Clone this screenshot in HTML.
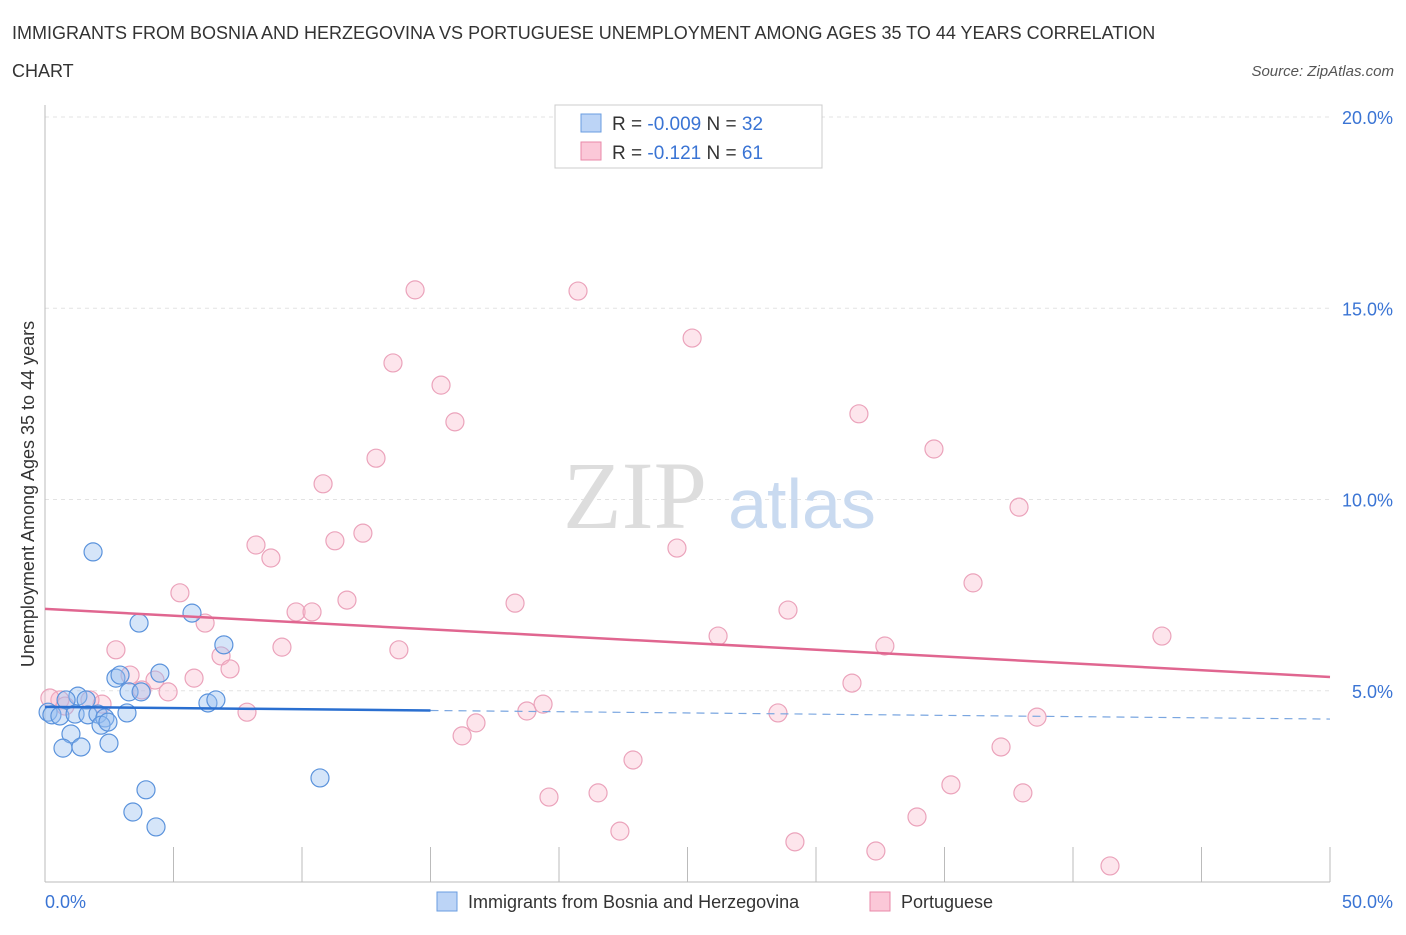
<!DOCTYPE html>
<html><head><meta charset="utf-8"><style>
body{margin:0;background:#fff;font-family:"Liberation Sans",sans-serif}
</style></head><body>
<svg width="1406" height="930" xmlns="http://www.w3.org/2000/svg" style="font-family:'Liberation Sans',sans-serif">
<text x="12" y="39" font-size="18" fill="#333">IMMIGRANTS FROM BOSNIA AND HERZEGOVINA VS PORTUGUESE UNEMPLOYMENT AMONG AGES 35 TO 44 YEARS CORRELATION</text>
<text x="12" y="77" font-size="18" fill="#333">CHART</text>
<text x="1394" y="76" font-size="15" fill="#555" font-style="italic" text-anchor="end">Source: ZipAtlas.com</text>
<g id="grid"></g>
<text x="635" y="528" font-size="96" fill="#ddd" font-family="Liberation Serif" text-anchor="middle">ZIP</text>
<text x="802" y="528" font-size="70" fill="#c9daf0" text-anchor="middle">atlas</text>
<line x1="45" y1="105" x2="45" y2="882" stroke="#bbb"/>
<line x1="45" y1="882" x2="1330" y2="882" stroke="#bbb"/>
<g id="xticks"></g>
<g id="yticks"></g>
<g id="pts"></g>
<g id="trends"></g>
<text transform="translate(34,494) rotate(-90)" font-size="18" fill="#333" text-anchor="middle">Unemployment Among Ages 35 to 44 years</text>
<text x="45" y="908" font-size="18" fill="#3a74d4">0.0%</text>
<text x="1393" y="908" font-size="18" fill="#3a74d4" text-anchor="end">50.0%</text>
<g>
<rect x="555" y="105" width="267" height="63" fill="#fff" stroke="#ccc"/>
<rect x="581" y="114" width="20" height="18" fill="#bcd4f6" stroke="#6a9de0"/>
<rect x="581" y="142" width="20" height="18" fill="#fbc8d8" stroke="#e889a8"/>
<text x="612" y="130" font-size="19" fill="#333">R = <tspan fill="#3a74d4">-0.009</tspan>   N = <tspan fill="#3a74d4">32</tspan></text>
<text x="612" y="159" font-size="19" fill="#333">R =  <tspan fill="#3a74d4">  -0.121</tspan>   N =  <tspan fill="#3a74d4">61</tspan></text>
</g>
<g>
<rect x="437" y="892" width="20" height="19" fill="#bcd4f6" stroke="#6a9de0"/>
<text x="468" y="908" font-size="18" fill="#333">Immigrants from Bosnia and Herzegovina</text>
<rect x="870" y="892" width="20" height="19" fill="#fbc8d8" stroke="#e889a8"/>
<text x="901" y="908" font-size="18" fill="#333">Portuguese</text>
</g>
</svg>
<script>
const blueX=[1.87,3.66,5.72,6.96,4.47,2.76,2.92,3.27,3.74,6.34,6.65,1.28,1.60,0.82,0.12,0.27,0.58,1.17,1.67,2.06,2.33,2.18,3.19,2.45,1.01,0.70,1.40,2.49,3.93,3.42,4.32,10.70];
const blueY=[8.63,6.77,7.03,6.20,5.46,5.33,5.41,4.97,4.97,4.68,4.76,4.86,4.76,4.76,4.44,4.37,4.34,4.39,4.37,4.39,4.29,4.10,4.42,4.18,3.87,3.50,3.53,3.63,2.41,1.83,1.44,2.72];
const pinkX=[14.40,20.74,25.18,13.54,15.41,15.95,31.67,34.59,12.88,10.82,37.90,12.37,11.28,8.21,8.79,24.59,36.11,5.25,11.75,18.29,9.77,10.39,28.91,6.23,26.19,43.46,9.22,32.68,2.76,13.77,6.85,7.20,31.40,5.80,3.31,4.28,4.79,3.77,19.38,18.75,7.86,28.52,2.22,1.75,0.58,0.19,38.60,16.77,16.23,37.20,22.88,35.25,19.61,21.52,38.05,33.93,22.37,29.18,32.33,41.44,0.78];
const pinkY=[15.48,15.45,14.22,13.57,12.99,12.03,12.24,11.32,11.08,10.41,9.80,9.12,8.92,8.81,8.47,8.73,7.82,7.56,7.37,7.29,7.06,7.06,7.11,6.77,6.43,6.43,6.14,6.17,6.07,6.07,5.91,5.57,5.20,5.33,5.41,5.28,4.97,5.02,4.65,4.47,4.44,4.42,4.65,4.76,4.76,4.81,4.31,4.16,3.82,3.53,3.19,2.54,2.22,2.33,2.33,1.70,1.33,1.05,0.81,0.42,4.60];
const yTicks=[5,10,15,20];
const yTickLabels=["5.0%","10.0%","15.0%","20.0%"];
const xTicks=[0,5,10,15,20,25,30,35,40,45,50];
const pinkTrend=[7.14,5.36];
const blueTrend=[4.58,4.26];
const blueSolidEnd=15;
const NS="http://www.w3.org/2000/svg";
const sx=v=>45+v*25.7, sy=v=>882-v*38.25;
function mk(t,a,p){const e=document.createElementNS(NS,t);for(const k in a)e.setAttribute(k,a[k]);p.appendChild(e);return e;}
const grid=document.getElementById('grid'),yt=document.getElementById('yticks'),xt=document.getElementById('xticks');
yTicks.forEach((v,i)=>{
 const l=mk('line',{x1:45,x2:1330,y1:sy(v),y2:sy(v),stroke:'#e3e3e3','stroke-dasharray':'4,4'},grid);
 
 
 const t=mk('text',{x:1393,y:sy(v)+7,'font-size':18,fill:'#3a74d4','text-anchor':'end'},yt);
 t.textContent=yTickLabels[i];
 
 
});
xTicks.forEach(v=>{
 const l=mk('line',{x1:sx(v),x2:sx(v),y1:847,y2:882,stroke:'#bbb'},xt);
 
 
});
const pts=document.getElementById('pts');
pinkX.forEach((x,i)=>{
 const c=mk('circle',{cx:sx(x),cy:sy(pinkY[i]),r:9,fill:'rgba(248,180,200,0.35)',stroke:'#eba3bb','stroke-width':1.2},pts);
 
 
});
blueX.forEach((x,i)=>{
 const c=mk('circle',{cx:sx(x),cy:sy(blueY[i]),r:9,fill:'rgba(150,190,240,0.4)',stroke:'#5b93dc','stroke-width':1.2},pts);
 
 
});
const tr=document.getElementById('trends');
const pl=mk('line',{x1:sx(0),x2:sx(50),y1:sy(pinkTrend[0]),y2:sy(pinkTrend[1]),stroke:'#e06690','stroke-width':2.5},tr);


const bmid=blueTrend[0]+(blueTrend[1]-blueTrend[0])*blueSolidEnd/50;
const bl=mk('line',{x1:sx(0),x2:sx(blueSolidEnd),y1:sy(blueTrend[0]),y2:sy(bmid),stroke:'#2a6fd0','stroke-width':2.5},tr);


const bd=mk('line',{x1:sx(blueSolidEnd),x2:sx(50),y1:sy(bmid),y2:sy(blueTrend[1]),stroke:'#7aa6e0','stroke-width':1.2,'stroke-dasharray':'8,6'},tr);


</script>
</body></html>
